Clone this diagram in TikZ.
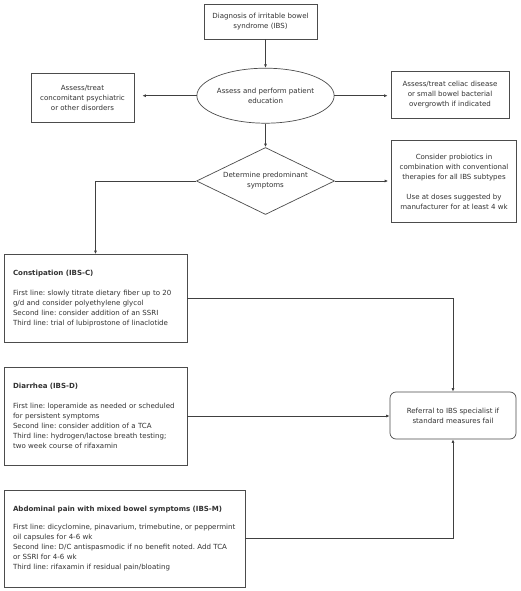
\documentclass[tikz,border=0pt]{standalone}
\usepackage{fontspec}
\setmainfont{DejaVu Sans}
\usetikzlibrary{shapes.geometric,arrows.meta}
\begin{document}
\frenchspacing
\hyphenpenalty=10000
\begin{tikzpicture}[x=1pt,y=-1pt,
  every node/.style={font=\fontsize{7.05}{10}\selectfont, text=black!80},
  box/.style={draw=black!70, line width=0.7pt, rectangle, inner sep=0pt, align=center},
  tbox/.style={box, align=left, inner xsep=9pt},
  conn/.style={draw=black!75, line width=0.7pt, -{Latex[length=3.5pt,width=3pt]}}
]
\useasboundingbox[fill=white] (0,0) rectangle (520,591);

\node[box, minimum width=113pt, minimum height=35pt] (diag) at (260.5,21.5)
  {Diagnosis of irritable bowel\\syndrome (IBS)};
\node[box, shape=ellipse, minimum width=127pt, minimum height=55pt] (ell) at (265.5,95.7)
  {Assess and perform patient\\education};
\node[box, minimum width=103pt, minimum height=49pt] (lft) at (82.5,97.5)
  {Assess/treat\\concomitant psychiatric\\or other disorders};
\node[box, minimum width=118pt, minimum height=47pt] (rgt) at (450,94.5)
  {Assess/treat celiac disease\\or small bowel bacterial\\overgrowth if indicated};
\node[box, shape=diamond, aspect=2.06, minimum width=138pt, minimum height=67pt] (dia) at (265.5,181)
  {Determine predominant\\symptoms};
\node[box, minimum width=125pt, minimum height=82pt] (prob) at (454,181.5)
  {Consider probiotics in\\combination with conventional\\therapies for all IBS subtypes\\[10pt]Use at doses suggested by\\manufacturer for at least 4 wk};

\node[tbox, text width=165pt, minimum height=88pt] (cons) at (95.5,298.5)
  {\textbf{Constipation (IBS-C)}\\[10pt]
   First line: slowly titrate dietary fiber up to 20\\
   g/d and consider polyethylene glycol\\
   Second line: consider addition of an SSRI\\
   Third line: trial of lubiprostone of linaclotide};
\node[tbox, text width=165pt, minimum height=98pt] (diar) at (95.5,416)
  {\textbf{Diarrhea (IBS-D)}\\[10pt]
   First line: loperamide as needed or scheduled\\
   for persistent symptoms\\
   Second line: consider addition of a TCA\\
   Third line: hydrogen/lactose breath testing;\\
   two week course of rifaxamin};
\node[tbox, text width=223pt, minimum height=97pt] (ibsm) at (124.5,538.5)
  {\mbox{\textbf{Abdominal pain with mixed bowel symptoms (IBS-M)}}\\[8pt]
   \mbox{First line: dicyclomine, pinavarium, trimebutine, or peppermint}\\
   oil capsules for 4-6 wk\\
   \mbox{Second line: D/C antispasmodic if no benefit noted. Add TCA}\\
   or SSRI for 4-6 wk\\
   Third line: rifaxamin if residual pain/bloating};
\node[box, rounded corners=6pt, minimum width=126pt, minimum height=47pt] (ref) at (453,415.5)
  {Referral to IBS specialist if\\standard measures fail};

\draw[conn] (diag.south -| ell.north) -- (ell.north);
\draw[conn, shorten >=8pt] (ell.west) -- (ell.west -| lft.east);
\draw[conn, shorten >=3pt] (ell.east) -- (ell.east -| rgt.west);
\draw[conn] (ell.south) -- (dia.north);
\draw[conn, shorten >=3pt] (dia.east) -- (dia.east -| prob.west);
\draw[conn] (dia.west) -| (cons.north);
\draw[conn] (cons.east) -| (ref.north);
\draw[conn] (diar.east) -- (diar.east -| ref.west);
\draw[conn] (ibsm.east) -| (ref.south);
\end{tikzpicture}
\end{document}
